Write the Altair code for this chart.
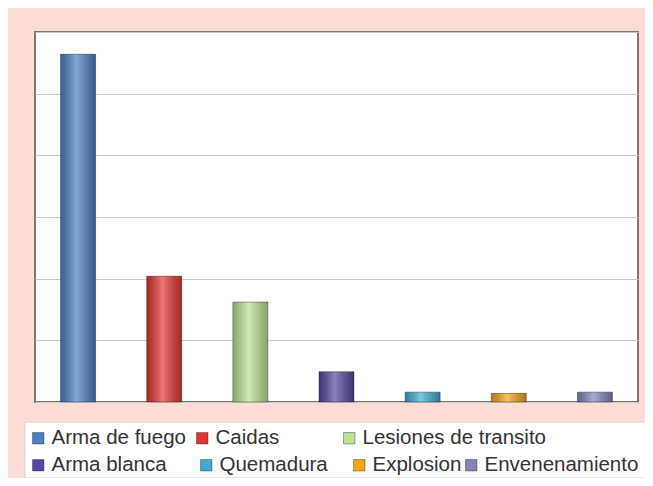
import altair as alt
import pandas as pd

categorias = ["Arma de fuego", "Caidas", "Lesiones de transito", "Arma blanca",
              "Quemadura", "Explosion", "Envenenamiento"]
valores = [56.4, 20.4, 16.2, 4.9, 1.6, 1.4, 1.6]
colores = ["#4a80c6", "#e0352f", "#bde293", "#54479f", "#40abd2", "#f2a41b", "#8284ba"]
ticks_y = [0, 10, 20, 30, 40, 50, 60]

# legend placement (layout only), relative to plot origin
leg_x = [-7, 157, 304, -7, 161, 314, 426]
leg_y = [396, 396, 396, 423, 423, 423, 423]

df = pd.DataFrame({"categoria": categorias, "valor": valores})

xenc = alt.X("categoria:N", sort=categorias, axis=None,
             scale=alt.Scale(paddingInner=0.594, paddingOuter=0.297))
yenc = alt.Y("valor:Q", scale=alt.Scale(domain=[0, 60], nice=False),
             axis=alt.Axis(values=ticks_y, labels=False, ticks=False, domain=False,
                           title=None, grid=True, gridColor="#cbcbcb", gridWidth=1))

box = alt.Chart(alt.Data(values=[{"k": 0}])).mark_rect(
    fill="white", stroke="#d9cfcc", strokeWidth=1
).encode(x=alt.value(-10), x2=alt.value(612), y=alt.value(390), y2=alt.value(446))

layers = [box]
for i, (c, col) in enumerate(zip(categorias, colores)):
    layers.append(
        alt.Chart(df).transform_filter(alt.datum.categoria == c).mark_bar().encode(
            x=xenc,
            y=yenc,
            color=alt.Color(
                "categoria:N",
                scale=alt.Scale(domain=[c], range=[col]),
                legend=alt.Legend(
                    orient="none", legendX=leg_x[i], legendY=leg_y[i], title=None,
                    symbolType="square", symbolSize=130,
                    symbolStrokeColor="rgba(0,0,0,0.35)", symbolStrokeWidth=1,
                    labelFont="Liberation Sans", labelFontSize=20.5, labelColor="#333333",
                    labelOffset=3, padding=0, labelLimit=400,
                ),
            ),
        )
    )

shade = alt.Chart(df).mark_bar(
    fill=alt.Gradient(
        gradient="linear", x1=0, x2=1, y1=0, y2=0,
        stops=[
            alt.GradientStop(color="rgba(0,0,0,0.25)", offset=0),
            alt.GradientStop(color="rgba(255,255,255,0.32)", offset=0.45),
            alt.GradientStop(color="rgba(0,0,0,0.28)", offset=1),
        ],
    ),
    stroke="rgba(0,0,0,0.35)", strokeWidth=1,
).encode(x=xenc, y=yenc)
layers.append(shade)

chart = alt.layer(*layers).resolve_scale(color="independent").properties(
    width=603, height=370,
    padding={"left": 27, "top": 24, "right": 7, "bottom": 76},
    autosize=alt.AutoSizeParams(type="none"),
    background="#fbdcd6",
).configure_view(fill="white", stroke="#7d7470", strokeWidth=2)

chart.save("out.html", embed_options={"renderer": "svg", "actions": False})
